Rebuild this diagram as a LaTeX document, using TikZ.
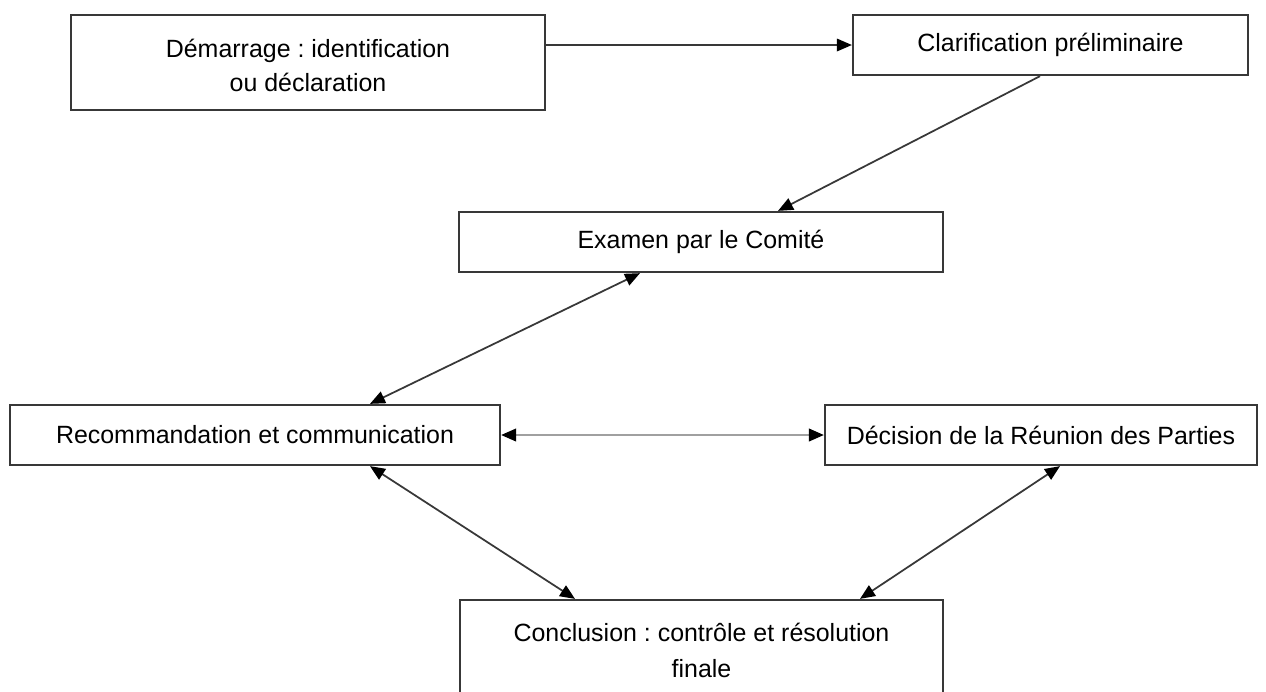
\documentclass[tikz,border=0pt]{standalone}
\usepackage{fontspec}
\setmainfont{Liberation Sans}
\usetikzlibrary{arrows.meta}
\definecolor{boxline}{HTML}{383838}
\definecolor{midline}{HTML}{A0A0A0}
\frenchspacing

\begin{document}
\begin{tikzpicture}[x=0.02cm,y=-0.02cm,
    box/.style={draw=boxline,line width=1.3pt,fill=white,align=center,inner sep=0pt,
      font=\fontsize{14.2}{19.5}\selectfont},
    >={Triangle[length=0.3cm,width=0.25cm,color=black]},
    link/.style={draw=boxline,line width=1pt}]
    \clip (0,0) rectangle (1266,691);%
    \node[box,minimum width=9.48cm,minimum height=1.9cm,text height=1.17cm] at (308,62.5) (start) {D\'emarrage : identification\\ou d\'eclaration};%
    \node[box,minimum width=7.9cm,minimum height=1.2cm] at (1050.5,45) (clarif) {Clarification pr\'eliminaire};%
    \node[box,minimum width=9.68cm,minimum height=1.2cm] at (701,242) (examen) {Examen par le Comit\'e};%
    \node[box,minimum width=9.8cm,minimum height=1.2cm] at (255,435) (recomm) {Recommandation et communication};%
    \node[box,minimum width=8.64cm,minimum height=1.2cm] at (1041,435) (decision) {D\'ecision de la R\'eunion des Parties};%
    \node[box,minimum width=9.66cm,minimum height=2.2cm,text depth=0.2cm,
      font=\fontsize{14.2}{20.5}\selectfont] at (701.5,655) (concl) {Conclusion : contr\^ole et r\'esolution\\finale};%
    \draw[link,->] (start.east |- clarif.west) -- (clarif.west);%
    \draw[link,->] ([xshift=-0.21cm]clarif.south) -- ([xshift=1.54cm]examen.north);%
    \draw[link,<->] ([xshift=2.3cm]recomm.north) -- ([xshift=-1.22cm]examen.south);%
    \draw[link,draw=midline,line width=1.3pt,<->] (recomm.east) -- (decision.west);%
    \draw[link,<->] ([xshift=2.3cm]recomm.south) -- ([xshift=-2.53cm]concl.north);%
    \draw[link,<->] ([xshift=3.17cm]concl.north) -- ([xshift=0.38cm]decision.south);%
\end{tikzpicture}
\end{document}
